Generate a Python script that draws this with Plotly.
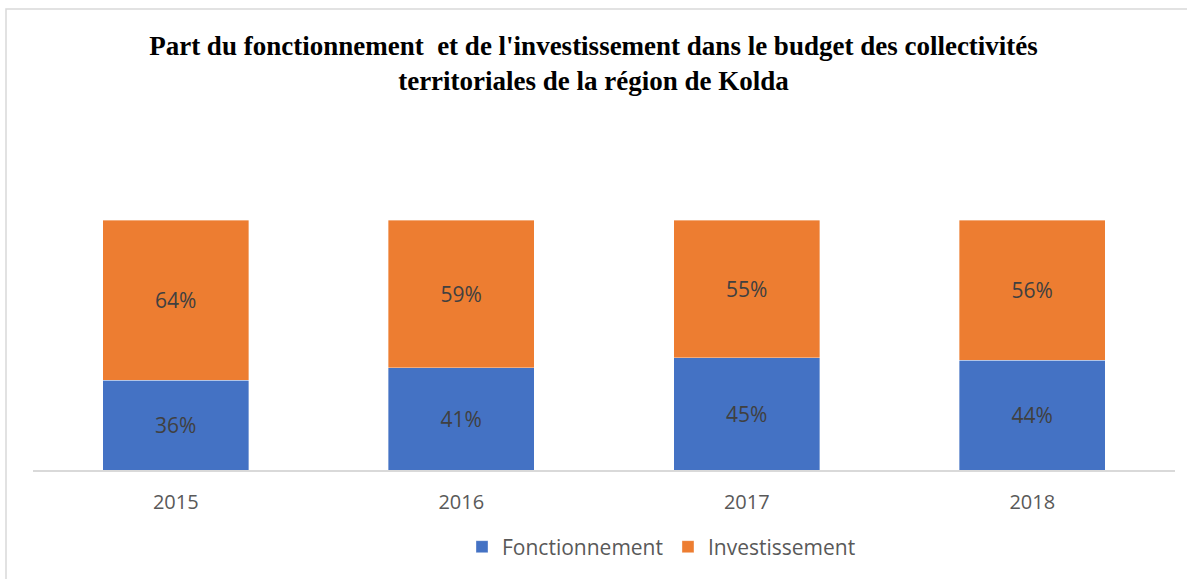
import plotly.graph_objects as go

years = ["2015", "2016", "2017", "2018"]
fonctionnement = [0.36, 0.41, 0.45, 0.44]
investissement = [0.64, 0.59, 0.55, 0.56]
series_names = ["Fonctionnement", "Investissement"]
colors = ["#4472C4", "#ED7D31"]
title_text = ("Part du fonctionnement  et de l'investissement dans le budget des collectivités"
              "<br>territoriales de la région de Kolda")

W, H = 1187, 579
L, R, T, B = 33, 12, 220, 109
pw, ph = W - L - R, H - T - B

def px_x(p):
    return (p - L) / pw

def px_y(p):
    return (H - B - p) / ph

fig = go.Figure()
for name, vals, col in zip(series_names, [fonctionnement, investissement], colors):
    fig.add_trace(go.Bar(
        x=years, y=vals, name=name,
        marker=dict(color=col, line=dict(color="rgba(255,255,255,0.6)", width=0.6)),
        text=[f"{round(v*100)}%" for v in vals],
        textposition="inside", insidetextanchor="middle",
        textfont=dict(family="Open Sans", size=21, color="#404040"),
        hoverinfo="skip",
    ))

fig.update_layout(
    width=W, height=H,
    barmode="stack", bargap=0.489,
    margin=dict(l=L, r=R, t=T, b=B),
    paper_bgcolor="white", plot_bgcolor="white",
    title=dict(text=title_text, x=0.5, xref="container", xanchor="center",
               y=1 - 55 / H, yref="container", yanchor="top",
               font=dict(family="Liberation Serif", size=27, color="#000000", weight="bold")),
    xaxis=dict(showline=True, linecolor="#D9D9D9", linewidth=1.5,
               ticks="outside", ticklen=13, tickcolor="rgba(0,0,0,0)",
               tickfont=dict(family="Open Sans", size=20, color="#595959"),
               showgrid=False, fixedrange=True),
    yaxis=dict(range=[0, 1], visible=False, showgrid=False, fixedrange=True),
    legend=dict(orientation="h", x=px_x(462), xanchor="left", y=px_y(547), yanchor="middle",
                font=dict(family="Open Sans", size=21, color="#595959"),
                itemwidth=30, traceorder="normal"),
    showlegend=True,
    shapes=[dict(type="rect", xref="paper", yref="paper",
                 x0=px_x(6), x1=px_x(1200), y0=px_y(600), y1=px_y(9),
                 line=dict(color="#D9D9D9", width=1.5), fillcolor="rgba(0,0,0,0)", layer="below")],
)

fig.write_html("out.html", config={"displayModeBar": False},
               post_script="document.body.style.margin='0';document.body.style.overflow='hidden';")
